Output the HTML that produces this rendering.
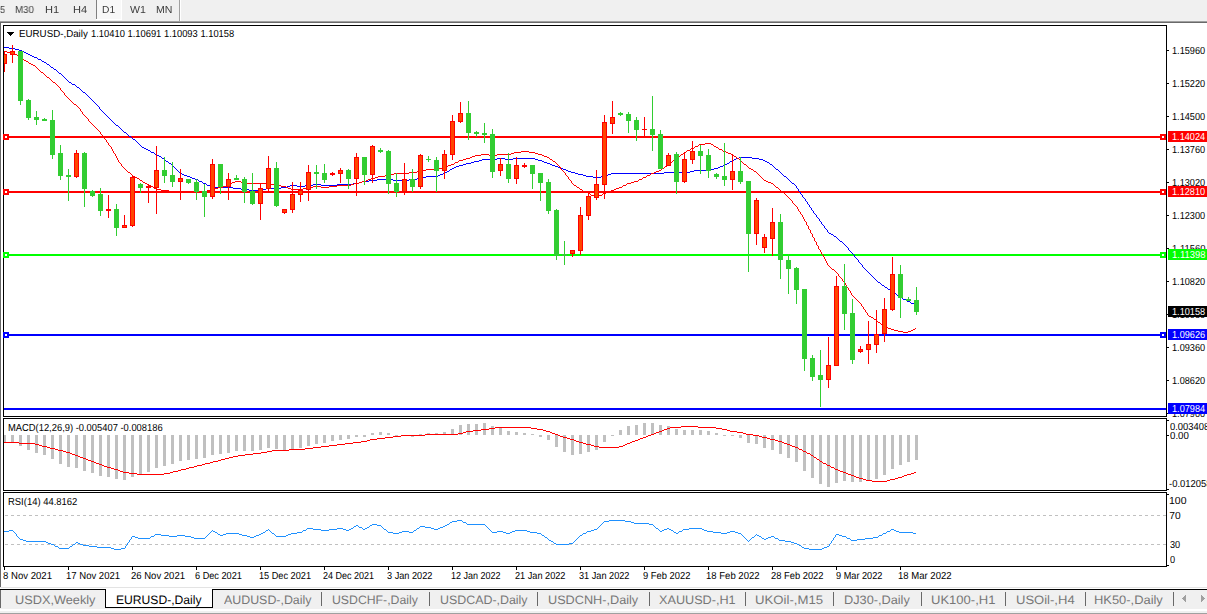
<!DOCTYPE html>
<html><head><meta charset="utf-8"><title>EURUSD-,Daily</title>
<style>
html,body{margin:0;padding:0;background:#fff}
body{width:1207px;height:614px;position:relative;overflow:hidden;font-family:"Liberation Sans",sans-serif}
svg{position:absolute;left:0;top:0;display:block}
i{position:absolute;display:block;width:39px;height:11px}
span{position:absolute;white-space:pre;line-height:1;text-rendering:geometricPrecision;transform-origin:0 0}
</style></head><body>
<svg width="1207" height="614" viewBox="0 0 1207 614" shape-rendering="crispEdges">
<path fill="#f0f0f0" d="M0 0h1207v21h-1207z"/>
<path fill="#a0a0a0" d="M0 21h1207v1h-1207z"/>
<path fill="#696969" d="M0 22h1207v1h-1207zM0 23h1v564h-1z"/>
<path fill="#f8f8f8" d="M97 0h24v19h-24z"/>
<path fill="#808080" d="M96 0h1v19h-1z"/>
<path fill="#ffffff" d="M96 19h26v1h-26zM121 0h1v20h-1z"/>
<path fill="#a0a0a0" d="M179 0h1v21h-1z"/>
<path fill="#ffffff" d="M180 0h1v21h-1z"/>
<path fill="#000" d="M3 25h1164v1h-1164zM3 416h1164v1h-1164zM3 25h1v392h-1zM1166 25h1v392h-1zM3 418h1164v1h-1164zM3 490h1164v1h-1164zM3 418h1v73h-1zM1166 418h1v73h-1zM3 492h1164v1h-1164zM3 566h1164v1h-1164zM3 492h1v75h-1zM1166 492h1v75h-1zM1167 50h2v1h-2zM1167 83h2v1h-2zM1167 116h2v1h-2zM1167 149h2v1h-2zM1167 182h2v1h-2zM1167 215h2v1h-2zM1167 248h2v1h-2zM1167 281h2v1h-2zM1167 314h2v1h-2zM1167 347h2v1h-2zM1167 380h2v1h-2zM1167 413h2v1h-2zM1167 420h2v1h-2zM1167 435h2v1h-2zM1167 489h2v1h-2zM1167 494h2v1h-2zM1167 565h2v1h-2zM4 567h1v3h-1zM68 567h1v3h-1zM132 567h1v3h-1zM196 567h1v3h-1zM260 567h1v3h-1zM324 567h1v3h-1zM388 567h1v3h-1zM452 567h1v3h-1zM516 567h1v3h-1zM580 567h1v3h-1zM644 567h1v3h-1zM708 567h1v3h-1zM772 567h1v3h-1zM836 567h1v3h-1zM900 567h1v3h-1z"/>
<path fill="#ff0000" d="M4 136h1162v2h-1162zM4 191h1162v2h-1162z"/>
<path fill="#00ff00" d="M4 254h1162v2h-1162z"/>
<path fill="#0000ff" d="M4 334h1162v2h-1162zM4 408h1162v2h-1162zM162 158h2v1h-2zM497 158h8v1h-8zM513 158h22v1h-22zM736 158h3v1h-3zM752 158h7v1h-7zM146 149h2v1h-2zM59 73h2v1h-2zM566 170h2v1h-2zM694 170h17v1h-17zM211 186h3v1h-3zM287 186h3v1h-3zM297 186h8v1h-8zM69 82h2v1h-2zM369 180h8v1h-8zM393 180h16v1h-16zM739 157h13v1h-13zM482 159h15v1h-15zM505 159h8v1h-8zM535 159h3v1h-3zM734 159h2v1h-2zM759 159h4v1h-4zM199 181h3v1h-3zM362 181h7v1h-7zM148 150h2v1h-2zM38 59h3v1h-3zM313 184h8v1h-8zM337 184h16v1h-16zM454 167h2v1h-2zM558 167h2v1h-2zM718 167h2v1h-2zM180 173h2v1h-2zM443 173h2v1h-2zM575 173h3v1h-3zM611 173h53v1h-53zM195 179h3v1h-3zM377 179h16v1h-16zM409 179h8v1h-8zM32 56h2v1h-2zM233 188h8v1h-8zM266 188h15v1h-15zM24 52h2v1h-2zM187 176h3v1h-3zM426 176h12v1h-12zM586 176h7v1h-7zM601 176h5v1h-5zM784 176h2v1h-2zM169 163h2v1h-2zM466 163h5v1h-5zM547 163h3v1h-3zM727 163h2v1h-2zM72 84h3v1h-3zM203 183h3v1h-3zM353 183h6v1h-6zM792 183h2v1h-2zM479 160h3v1h-3zM538 160h4v1h-4zM732 160h2v1h-2zM763 160h2v1h-2zM34 57h3v1h-3zM459 165h4v1h-4zM552 165h3v1h-3zM723 165h2v1h-2zM214 187h19v1h-19zM281 187h6v1h-6zM28 54h2v1h-2zM19 50h3v1h-3zM184 175h3v1h-3zM438 175h2v1h-2zM583 175h3v1h-3zM606 175h2v1h-2zM463 164h3v1h-3zM550 164h2v1h-2zM725 164h2v1h-2zM770 164h2v1h-2zM249 190h14v1h-14zM207 185h4v1h-4zM290 185h7v1h-7zM305 185h8v1h-8zM321 185h16v1h-16zM190 177h2v1h-2zM423 177h3v1h-3zM593 177h8v1h-8zM450 169h2v1h-2zM563 169h3v1h-3zM711 169h3v1h-3zM776 169h2v1h-2zM445 172h2v1h-2zM571 172h4v1h-4zM664 172h26v1h-26zM4 47h5v1h-5zM129 136h2v1h-2zM166 161h2v1h-2zM474 161h5v1h-5zM542 161h2v1h-2zM730 161h2v1h-2zM765 161h2v1h-2zM182 174h2v1h-2zM440 174h3v1h-3zM578 174h5v1h-5zM608 174h3v1h-3zM54 69h2v1h-2zM241 189h8v1h-8zM263 189h3v1h-3zM471 162h3v1h-3zM544 162h3v1h-3zM767 162h2v1h-2zM9 48h6v1h-6zM447 171h2v1h-2zM568 171h3v1h-3zM690 171h4v1h-4zM192 178h3v1h-3zM417 178h6v1h-6zM83 92h2v1h-2zM51 67h2v1h-2zM116 125h2v1h-2zM452 168h2v1h-2zM560 168h3v1h-3zM714 168h4v1h-4zM124 132h2v1h-2zM456 166h3v1h-3zM555 166h3v1h-3zM720 166h3v1h-3zM890 290h2v1h-2zM893 292h2v1h-2zM159 156h2v1h-2zM885 287h2v1h-2zM30 55h2v1h-2zM155 154h2v1h-2zM15 49h4v1h-4zM834 236h2v1h-2zM26 53h2v1h-2zM157 155h2v1h-2zM42 61h2v1h-2zM359 182h3v1h-3zM44 62h2v1h-2zM911 303h3v1h-3zM903 299h3v1h-3zM878 282h2v1h-2zM133 139h2v1h-2zM151 152h3v1h-3zM907 301h3v1h-3zM900 297h2v1h-2zM829 233h2v1h-2zM144 148h2v1h-2zM914 304h2v1h-2zM840 241h2v1h-2zM47 64h2v1h-2zM888 289h2v1h-2zM77 87h2v1h-2zM882 285h2v1h-2zM831 234h2v1h-2zM22 51h2v1h-2zM142 147h2v1h-2zM897 295h2v1h-2zM812 210h1v1h-1zM79 88h1v1h-1zM96 104h1v1h-1zM821 222h1v2h-1zM863 267h1v1h-1zM880 283h1v1h-1zM796 186h1v2h-1zM161 157h1v1h-1zM773 166h1v1h-1zM179 172h1v1h-1zM892 291h1v1h-1zM127 134h1v1h-1zM813 211h1v2h-1zM112 121h1v1h-1zM887 288h1v1h-1zM854 255h1v2h-1zM175 168h1v1h-1zM168 162h1v1h-1zM899 296h1v1h-1zM827 230h1v2h-1zM800 192h1v2h-1zM176 169h1v1h-1zM881 284h1v1h-1zM864 268h1v1h-1zM135 140h1v1h-1zM805 199h1v2h-1zM851 252h1v1h-1zM845 245h1v1h-1zM870 274h1v1h-1zM786 177h1v1h-1zM806 201h1v1h-1zM819 219h1v2h-1zM791 182h1v1h-1zM846 246h1v1h-1zM809 205h1v2h-1zM794 184h1v1h-1zM787 178h1v1h-1zM101 110h1v1h-1zM118 126h1v1h-1zM198 180h1v1h-1zM842 242h1v1h-1zM861 264h1v1h-1zM871 275h1v1h-1zM75 85h1v1h-1zM811 208h1v2h-1zM798 189h1v2h-1zM867 271h1v1h-1zM37 58h1v1h-1zM799 191h1v1h-1zM847 247h1v1h-1zM816 215h1v2h-1zM788 179h1v1h-1zM825 228h1v1h-1zM843 243h1v1h-1zM836 237h1v1h-1zM868 272h1v1h-1zM46 63h1v1h-1zM862 265h1v2h-1zM202 182h1v1h-1zM789 180h1v1h-1zM803 197h1v1h-1zM844 244h1v1h-1zM858 260h1v2h-1zM53 68h1v1h-1zM790 181h1v1h-1zM128 135h1v1h-1zM71 83h1v1h-1zM64 77h1v1h-1zM778 170h1v1h-1zM99 107h1v2h-1zM139 144h1v1h-1zM873 277h1v1h-1zM817 217h1v1h-1zM41 60h1v1h-1zM826 229h1v1h-1zM874 278h1v1h-1zM869 273h1v1h-1zM89 97h1v1h-1zM140 145h1v1h-1zM818 218h1v1h-1zM865 269h1v1h-1zM85 93h1v1h-1zM875 279h1v1h-1zM859 262h1v1h-1zM136 141h1v1h-1zM838 239h1v1h-1zM90 98h1v1h-1zM779 171h1v1h-1zM86 94h1v1h-1zM206 184h1v1h-1zM61 74h1v1h-1zM860 263h1v1h-1zM106 115h1v1h-1zM123 131h1v1h-1zM810 207h1v1h-1zM62 75h1v1h-1zM119 127h1v1h-1zM876 280h1v1h-1zM164 159h1v1h-1zM895 293h1v1h-1zM102 111h1v1h-1zM137 142h1v1h-1zM769 163h1v1h-1zM872 276h1v1h-1zM103 112h1v1h-1zM87 95h1v1h-1zM877 281h1v1h-1zM80 89h1v1h-1zM814 213h1v1h-1zM97 105h1v1h-1zM138 143h1v1h-1zM815 214h1v1h-1zM802 195h1v2h-1zM848 248h1v2h-1zM781 173h1v1h-1zM824 226h1v2h-1zM93 101h1v1h-1zM68 81h1v1h-1zM884 286h1v1h-1zM88 96h1v1h-1zM782 174h1v1h-1zM120 128h1v1h-1zM56 70h1v1h-1zM165 160h1v1h-1zM63 76h1v1h-1zM837 238h1v1h-1zM108 117h1v1h-1zM857 259h1v1h-1zM804 198h1v1h-1zM828 232h1v1h-1zM104 113h1v1h-1zM172 165h1v1h-1zM121 129h1v1h-1zM807 202h1v2h-1zM132 138h1v1h-1zM65 78h1v1h-1zM122 130h1v1h-1zM100 109h1v1h-1zM110 119h1v1h-1zM94 102h1v1h-1zM154 153h1v1h-1zM173 166h1v1h-1zM783 175h1v1h-1zM82 91h1v1h-1zM808 204h1v1h-1zM141 146h1v1h-1zM95 103h1v1h-1zM115 124h1v1h-1zM822 224h1v1h-1zM795 185h1v1h-1zM839 240h1v1h-1zM91 99h1v1h-1zM849 250h1v1h-1zM66 79h1v1h-1zM780 172h1v1h-1zM797 188h1v1h-1zM111 120h1v1h-1zM823 225h1v1h-1zM449 170h1v1h-1zM855 257h1v1h-1zM67 80h1v1h-1zM107 116h1v1h-1zM150 151h1v1h-1zM801 194h1v1h-1zM856 258h1v1h-1zM896 294h1v1h-1zM131 137h1v1h-1zM49 65h1v1h-1zM92 100h1v1h-1zM850 251h1v1h-1zM910 302h1v1h-1zM833 235h1v1h-1zM171 164h1v1h-1zM902 298h1v1h-1zM774 167h1v1h-1zM81 90h1v1h-1zM98 106h1v1h-1zM50 66h1v1h-1zM729 162h1v1h-1zM775 168h1v1h-1zM113 122h1v1h-1zM57 71h1v1h-1zM114 123h1v1h-1zM109 118h1v1h-1zM177 170h1v1h-1zM820 221h1v1h-1zM105 114h1v1h-1zM906 300h1v1h-1zM58 72h1v1h-1zM178 171h1v1h-1zM126 133h1v1h-1zM866 270h1v1h-1zM852 253h1v1h-1zM853 254h1v1h-1zM174 167h1v1h-1zM76 86h1v1h-1zM772 165h1v1h-1z"/>
<path fill="#ff0000" d="M385 175h6v1h-6zM647 175h3v1h-3zM147 184h2v1h-2zM271 184h3v1h-3zM351 184h3v1h-3zM891 329h3v1h-3zM913 329h2v1h-2zM161 190h8v1h-8zM207 190h4v1h-4zM611 190h3v1h-3zM417 171h6v1h-6zM656 171h3v1h-3zM754 171h2v1h-2zM140 180h2v1h-2zM366 180h2v1h-2zM764 180h2v1h-2zM481 154h8v1h-8zM497 154h14v1h-14zM538 154h4v1h-4zM681 154h2v1h-2zM731 154h2v1h-2zM151 186h2v1h-2zM223 186h3v1h-3zM281 186h5v1h-5zM313 186h8v1h-8zM329 186h8v1h-8zM586 192h2v1h-2zM606 192h2v1h-2zM782 192h2v1h-2zM884 326h2v1h-2zM128 172h2v1h-2zM409 172h8v1h-8zM654 172h2v1h-2zM466 158h4v1h-4zM737 158h2v1h-2zM903 332h5v1h-5zM169 191h38v1h-38zM583 191h3v1h-3zM608 191h3v1h-3zM235 181h6v1h-6zM362 181h4v1h-4zM634 181h4v1h-4zM766 181h2v1h-2zM521 151h8v1h-8zM723 151h3v1h-3zM156 189h5v1h-5zM211 189h4v1h-4zM291 189h12v1h-12zM580 189h2v1h-2zM614 189h2v1h-2zM218 187h5v1h-5zM286 187h2v1h-2zM306 187h7v1h-7zM321 187h8v1h-8zM577 187h2v1h-2zM619 187h3v1h-3zM776 187h2v1h-2zM423 170h3v1h-3zM659 170h2v1h-2zM368 179h3v1h-3zM639 179h3v1h-3zM143 182h2v1h-2zM232 182h3v1h-3zM241 182h6v1h-6zM359 182h3v1h-3zM631 182h3v1h-3zM768 182h3v1h-3zM886 327h2v1h-2zM137 178h2v1h-2zM371 178h4v1h-4zM145 183h2v1h-2zM230 183h2v1h-2zM247 183h24v1h-24zM354 183h5v1h-5zM627 183h4v1h-4zM771 183h2v1h-2zM472 156h3v1h-3zM544 156h3v1h-3zM678 156h2v1h-2zM734 156h2v1h-2zM133 176h2v1h-2zM378 176h7v1h-7zM394 173h15v1h-15zM651 173h3v1h-3zM451 164h3v1h-3zM744 164h2v1h-2zM470 157h2v1h-2zM547 157h2v1h-2zM29 63h2v1h-2zM455 162h3v1h-3zM670 162h2v1h-2zM439 168h3v1h-3zM662 168h2v1h-2zM749 168h2v1h-2zM888 328h3v1h-3zM426 169h13v1h-13zM751 169h2v1h-2zM154 188h2v1h-2zM215 188h3v1h-3zM288 188h3v1h-3zM303 188h3v1h-3zM616 188h3v1h-3zM135 177h2v1h-2zM375 177h3v1h-3zM643 177h3v1h-3zM31 64h2v1h-2zM24 60h2v1h-2zM588 193h2v1h-2zM603 193h3v1h-3zM719 149h3v1h-3zM459 160h4v1h-4zM673 160h2v1h-2zM894 330h4v1h-4zM911 330h2v1h-2zM832 269h2v1h-2zM149 185h2v1h-2zM226 185h3v1h-3zM274 185h7v1h-7zM337 185h14v1h-14zM574 185h2v1h-2zM623 185h3v1h-3zM448 165h3v1h-3zM514 152h7v1h-7zM529 152h6v1h-6zM684 152h2v1h-2zM726 152h2v1h-2zM511 153h3v1h-3zM535 153h3v1h-3zM728 153h3v1h-3zM475 155h6v1h-6zM489 155h8v1h-8zM542 155h2v1h-2zM878 322h2v1h-2zM705 143h6v1h-6zM4 51h3v1h-3zM41 72h2v1h-2zM898 331h5v1h-5zM908 331h3v1h-3zM53 82h2v1h-2zM553 161h2v1h-2zM7 52h3v1h-3zM446 166h2v1h-2zM665 166h2v1h-2zM20 57h2v1h-2zM10 53h4v1h-4zM442 167h4v1h-4zM699 144h6v1h-6zM711 144h2v1h-2zM871 317h2v1h-2zM874 319h2v1h-2zM74 104h2v1h-2zM14 54h3v1h-3zM716 147h2v1h-2zM591 195h3v1h-3zM599 195h3v1h-3zM695 146h3v1h-3zM714 146h2v1h-2zM463 159h3v1h-3zM550 159h2v1h-2zM595 197h3v1h-3zM691 148h3v1h-3zM33 65h2v1h-2zM391 174h3v1h-3zM687 150h3v1h-3zM26 61h2v1h-2zM881 324h2v1h-2zM17 55h2v1h-2zM47 77h2v1h-2zM869 316h2v1h-2zM626 184h1v1h-1zM851 293h1v2h-1zM883 325h1v1h-1zM127 171h1v1h-1zM824 257h1v2h-1zM58 86h1v1h-1zM698 145h1v1h-1zM817 245h1v1h-1zM818 246h1v3h-1zM569 179h1v1h-1zM814 238h1v3h-1zM792 201h1v2h-1zM28 62h1v1h-1zM109 145h1v1h-1zM117 158h1v2h-1zM806 222h1v3h-1zM736 157h1v1h-1zM120 163h1v1h-1zM557 164h1v1h-1zM69 99h1v1h-1zM846 285h1v2h-1zM113 151h1v2h-1zM153 187h1v1h-1zM579 188h1v1h-1zM802 215h1v2h-1zM91 123h1v1h-1zM850 291h1v2h-1zM564 172h1v1h-1zM762 178h1v1h-1zM820 250h1v2h-1zM43 73h1v1h-1zM773 184h1v1h-1zM784 193h1v1h-1zM690 149h1v1h-1zM568 177h1v2h-1zM861 304h1v2h-1zM785 194h1v1h-1zM835 271h1v1h-1zM98 130h1v1h-1zM686 151h1v1h-1zM61 90h1v1h-1zM598 196h1v1h-1zM667 165h1v1h-1zM602 194h1v1h-1zM810 230h1v3h-1zM83 114h1v1h-1zM62 91h1v1h-1zM102 135h1v2h-1zM791 200h1v1h-1zM556 163h1v1h-1zM849 290h1v1h-1zM84 115h1v1h-1zM761 177h1v1h-1zM108 143h1v2h-1zM116 156h1v2h-1zM845 283h1v2h-1zM853 296h1v1h-1zM831 268h1v1h-1zM812 234h1v3h-1zM813 237h1v1h-1zM76 105h1v1h-1zM746 165h1v1h-1zM82 112h1v2h-1zM779 189h1v1h-1zM838 274h1v2h-1zM747 166h1v1h-1zM101 134h1v1h-1zM142 181h1v1h-1zM39 70h1v1h-1zM112 149h1v2h-1zM780 190h1v1h-1zM852 295h1v1h-1zM115 154h1v2h-1zM123 167h1v1h-1zM713 145h1v1h-1zM823 255h1v2h-1zM567 176h1v1h-1zM549 158h1v1h-1zM859 302h1v1h-1zM816 242h1v3h-1zM60 88h1v2h-1zM646 176h1v1h-1zM571 181h1v2h-1zM860 303h1v1h-1zM64 93h1v2h-1zM458 161h1v1h-1zM38 69h1v1h-1zM49 78h1v1h-1zM757 173h1v1h-1zM848 288h1v2h-1zM111 147h1v2h-1zM560 167h1v2h-1zM741 161h1v1h-1zM93 125h1v1h-1zM742 162h1v1h-1zM775 186h1v1h-1zM863 307h1v2h-1zM786 195h1v1h-1zM642 178h1v1h-1zM100 132h1v2h-1zM570 180h1v1h-1zM787 196h1v1h-1zM808 226h1v3h-1zM867 313h1v2h-1zM837 273h1v1h-1zM793 203h1v1h-1zM85 116h1v1h-1zM794 204h1v1h-1zM558 165h1v1h-1zM669 163h1v1h-1zM86 117h1v1h-1zM70 100h1v1h-1zM622 186h1v1h-1zM559 166h1v1h-1zM92 124h1v1h-1zM71 101h1v1h-1zM44 74h1v1h-1zM45 75h1v1h-1zM56 84h1v1h-1zM862 306h1v1h-1zM811 233h1v1h-1zM638 180h1v1h-1zM99 131h1v1h-1zM756 172h1v1h-1zM866 312h1v1h-1zM121 164h1v2h-1zM63 92h1v1h-1zM763 179h1v1h-1zM854 297h1v1h-1zM55 83h1v1h-1zM855 298h1v1h-1zM103 137h1v1h-1zM880 323h1v1h-1zM573 184h1v1h-1zM576 186h1v1h-1zM804 219h1v2h-1zM748 167h1v1h-1zM807 225h1v1h-1zM40 71h1v1h-1zM797 207h1v2h-1zM781 191h1v1h-1zM840 277h1v1h-1zM561 169h1v1h-1zM800 212h1v2h-1zM722 150h1v1h-1zM562 170h1v1h-1zM125 169h1v1h-1zM22 58h1v1h-1zM733 155h1v1h-1zM865 310h1v2h-1zM876 320h1v1h-1zM139 179h1v1h-1zM77 106h1v1h-1zM675 159h1v1h-1zM718 148h1v1h-1zM839 276h1v1h-1zM51 80h1v1h-1zM124 168h1v1h-1zM66 96h1v1h-1zM106 140h1v2h-1zM795 205h1v1h-1zM803 217h1v2h-1zM88 119h1v2h-1zM796 206h1v1h-1zM825 259h1v2h-1zM828 265h1v1h-1zM94 126h1v1h-1zM73 103h1v1h-1zM821 252h1v2h-1zM743 163h1v1h-1zM572 183h1v1h-1zM95 127h1v1h-1zM864 309h1v1h-1zM65 95h1v1h-1zM454 163h1v1h-1zM788 197h1v1h-1zM50 79h1v1h-1zM683 153h1v1h-1zM809 229h1v1h-1zM80 109h1v2h-1zM758 174h1v1h-1zM664 167h1v1h-1zM759 175h1v1h-1zM799 211h1v1h-1zM229 184h1v1h-1zM72 102h1v1h-1zM594 196h1v1h-1zM87 118h1v1h-1zM857 300h1v1h-1zM590 194h1v1h-1zM582 190h1v1h-1zM868 315h1v1h-1zM131 174h1v1h-1zM35 66h1v1h-1zM842 279h1v2h-1zM798 209h1v2h-1zM827 263h1v2h-1zM753 170h1v1h-1zM46 76h1v1h-1zM57 85h1v1h-1zM130 173h1v1h-1zM694 147h1v1h-1zM104 138h1v1h-1zM841 278h1v1h-1zM105 139h1v1h-1zM805 221h1v1h-1zM826 261h1v2h-1zM89 121h1v1h-1zM126 170h1v1h-1zM68 98h1v1h-1zM677 157h1v1h-1zM856 299h1v1h-1zM90 122h1v1h-1zM739 159h1v1h-1zM563 171h1v1h-1zM23 59h1v1h-1zM78 107h1v1h-1zM834 270h1v1h-1zM97 129h1v1h-1zM118 160h1v2h-1zM79 108h1v1h-1zM119 162h1v1h-1zM52 81h1v1h-1zM801 214h1v1h-1zM819 249h1v1h-1zM877 321h1v1h-1zM552 160h1v1h-1zM790 199h1v1h-1zM555 162h1v1h-1zM67 97h1v1h-1zM107 142h1v1h-1zM19 56h1v1h-1zM760 176h1v1h-1zM829 266h1v1h-1zM873 318h1v1h-1zM565 173h1v2h-1zM822 254h1v1h-1zM830 267h1v1h-1zM96 128h1v1h-1zM566 175h1v1h-1zM650 174h1v1h-1zM815 241h1v1h-1zM789 198h1v1h-1zM132 175h1v1h-1zM81 111h1v1h-1zM778 188h1v1h-1zM668 164h1v1h-1zM843 281h1v1h-1zM37 68h1v1h-1zM114 153h1v1h-1zM672 161h1v1h-1zM122 166h1v1h-1zM844 282h1v1h-1zM847 287h1v1h-1zM661 169h1v1h-1zM858 301h1v1h-1zM774 185h1v1h-1zM36 67h1v1h-1zM915 328h1v1h-1zM59 87h1v1h-1zM836 272h1v1h-1zM676 158h1v1h-1zM110 146h1v1h-1zM740 160h1v1h-1zM680 155h1v1h-1zM4 51h1v21h-1zM4 54h3v10h-3z"/>
<path fill="#ff4500" d="M4 55h2v8h-2z"/>
<path fill="#ff0000" d="M12 45h1v18h-1zM10 51h5v4h-5z"/>
<path fill="#ff4500" d="M11 52h3v2h-3z"/>
<path fill="#32cd32" d="M20 51h1v54h-1zM18 51h5v50h-5zM28 99h1v21h-1zM26 100h5v18h-5zM36 111h1v14h-1zM34 117h5v3h-5zM44 118h1v3h-1zM42 119h5v2h-5zM52 110h1v49h-1zM50 120h5v35h-5zM60 145h1v35h-1zM58 153h5v23h-5zM68 169h1v32h-1zM66 175h5v2h-5z"/>
<path fill="#ff0000" d="M76 150h1v28h-1zM74 153h5v24h-5z"/>
<path fill="#ff4500" d="M75 154h3v22h-3z"/>
<path fill="#32cd32" d="M84 152h1v55h-1zM82 153h5v36h-5zM92 190h1v7h-1zM90 191h5v5h-5zM100 188h1v28h-1zM98 194h5v17h-5z"/>
<path fill="#ff0000" d="M108 195h1v23h-1zM106 209h5v2h-5z"/>
<path fill="#32cd32" d="M116 204h1v32h-1zM114 209h5v19h-5z"/>
<path fill="#ff0000" d="M124 215h1v13h-1zM122 225h5v3h-5z"/>
<path fill="#ff4500" d="M123 226h3v1h-3z"/>
<path fill="#ff0000" d="M132 175h1v52h-1zM130 177h5v49h-5z"/>
<path fill="#ff4500" d="M131 178h3v47h-3z"/>
<path fill="#32cd32" d="M140 183h1v10h-1zM138 184h5v4h-5z"/>
<path fill="#ff0000" d="M148 185h1v18h-1zM146 186h5v2h-5zM156 146h1v68h-1zM154 170h5v18h-5z"/>
<path fill="#ff4500" d="M155 171h3v16h-3z"/>
<path fill="#32cd32" d="M164 157h1v26h-1zM162 170h5v6h-5zM172 162h1v25h-1zM170 175h5v7h-5z"/>
<path fill="#ff0000" d="M180 169h1v31h-1zM178 178h5v4h-5z"/>
<path fill="#ff4500" d="M179 179h3v2h-3z"/>
<path fill="#32cd32" d="M188 179h1v5h-1zM186 179h5v4h-5zM196 179h1v21h-1zM194 182h5v10h-5zM204 184h1v33h-1zM202 191h5v6h-5z"/>
<path fill="#ff0000" d="M212 159h1v40h-1zM210 164h5v33h-5z"/>
<path fill="#ff4500" d="M211 165h3v31h-3z"/>
<path fill="#32cd32" d="M220 164h1v30h-1zM218 164h5v23h-5z"/>
<path fill="#ff0000" d="M228 173h1v27h-1zM226 179h5v8h-5z"/>
<path fill="#ff4500" d="M227 180h3v6h-3z"/>
<path fill="#32cd32" d="M236 175h1v5h-1zM234 178h5v2h-5zM244 177h1v26h-1zM242 179h5v13h-5zM252 173h1v32h-1zM250 191h5v13h-5z"/>
<path fill="#ff0000" d="M260 184h1v36h-1zM258 188h5v16h-5z"/>
<path fill="#ff4500" d="M259 189h3v14h-3z"/>
<path fill="#ff0000" d="M268 156h1v36h-1zM266 168h5v21h-5z"/>
<path fill="#ff4500" d="M267 169h3v19h-3z"/>
<path fill="#32cd32" d="M276 162h1v45h-1zM274 168h5v38h-5z"/>
<path fill="#ff0000" d="M284 209h1v5h-1zM282 209h5v4h-5z"/>
<path fill="#ff4500" d="M283 210h3v2h-3z"/>
<path fill="#ff0000" d="M292 182h1v31h-1zM290 194h5v16h-5z"/>
<path fill="#ff4500" d="M291 195h3v14h-3z"/>
<path fill="#ff0000" d="M300 182h1v20h-1zM298 190h5v5h-5z"/>
<path fill="#ff4500" d="M299 191h3v3h-3z"/>
<path fill="#ff0000" d="M308 165h1v36h-1zM306 172h5v18h-5z"/>
<path fill="#ff4500" d="M307 173h3v16h-3z"/>
<path fill="#32cd32" d="M316 165h1v24h-1zM314 172h5v2h-5zM324 164h1v19h-1zM322 173h5v7h-5z"/>
<path fill="#ff0000" d="M332 172h1v4h-1zM330 173h5v2h-5zM340 168h1v15h-1zM338 170h5v4h-5z"/>
<path fill="#ff4500" d="M339 171h3v2h-3z"/>
<path fill="#32cd32" d="M348 169h1v20h-1zM346 170h5v9h-5z"/>
<path fill="#ff0000" d="M356 153h1v43h-1zM354 157h5v22h-5z"/>
<path fill="#ff4500" d="M355 158h3v20h-3z"/>
<path fill="#32cd32" d="M364 157h1v28h-1zM362 157h5v18h-5z"/>
<path fill="#ff0000" d="M372 145h1v38h-1zM370 146h5v29h-5z"/>
<path fill="#ff4500" d="M371 147h3v27h-3z"/>
<path fill="#32cd32" d="M380 148h1v5h-1zM378 150h5v2h-5zM388 150h1v44h-1zM386 151h5v33h-5zM396 173h1v24h-1zM394 183h5v9h-5z"/>
<path fill="#ff0000" d="M404 163h1v32h-1zM402 179h5v13h-5z"/>
<path fill="#ff4500" d="M403 180h3v11h-3z"/>
<path fill="#32cd32" d="M412 169h1v23h-1zM410 179h5v8h-5z"/>
<path fill="#ff0000" d="M420 154h1v35h-1zM418 155h5v32h-5z"/>
<path fill="#ff4500" d="M419 156h3v30h-3z"/>
<path fill="#32cd32" d="M428 156h1v6h-1zM426 159h5v1h-5zM436 157h1v35h-1zM434 160h5v11h-5z"/>
<path fill="#ff0000" d="M444 150h1v29h-1zM442 154h5v17h-5z"/>
<path fill="#ff4500" d="M443 155h3v15h-3z"/>
<path fill="#ff0000" d="M452 115h1v45h-1zM450 121h5v34h-5z"/>
<path fill="#ff4500" d="M451 122h3v32h-3z"/>
<path fill="#ff0000" d="M460 102h1v21h-1zM458 113h5v9h-5z"/>
<path fill="#ff4500" d="M459 114h3v7h-3z"/>
<path fill="#32cd32" d="M468 101h1v39h-1zM466 113h5v20h-5zM476 131h1v6h-1zM474 132h5v2h-5zM484 123h1v20h-1zM482 133h5v2h-5zM492 129h1v49h-1zM490 134h5v38h-5z"/>
<path fill="#ff0000" d="M500 158h1v18h-1zM498 164h5v7h-5z"/>
<path fill="#ff4500" d="M499 165h3v5h-3z"/>
<path fill="#32cd32" d="M508 153h1v30h-1zM506 164h5v15h-5z"/>
<path fill="#ff0000" d="M516 157h1v27h-1zM514 165h5v14h-5z"/>
<path fill="#ff4500" d="M515 166h3v12h-3z"/>
<path fill="#ff0000" d="M524 163h1v5h-1zM522 165h5v2h-5z"/>
<path fill="#32cd32" d="M532 165h1v24h-1zM530 165h5v9h-5zM540 173h1v28h-1zM538 173h5v10h-5zM548 179h1v35h-1zM546 182h5v29h-5zM556 209h1v51h-1zM554 210h5v46h-5zM564 241h1v24h-1zM562 254h5v2h-5z"/>
<path fill="#ff0000" d="M572 250h1v7h-1zM570 250h5v4h-5z"/>
<path fill="#ff4500" d="M571 251h3v2h-3z"/>
<path fill="#ff0000" d="M580 207h1v48h-1zM578 215h5v36h-5z"/>
<path fill="#ff4500" d="M579 216h3v34h-3z"/>
<path fill="#ff0000" d="M588 192h1v28h-1zM586 196h5v20h-5z"/>
<path fill="#ff4500" d="M587 197h3v18h-3z"/>
<path fill="#ff0000" d="M596 170h1v30h-1zM594 184h5v14h-5z"/>
<path fill="#ff4500" d="M595 185h3v12h-3z"/>
<path fill="#ff0000" d="M604 115h1v84h-1zM602 122h5v63h-5z"/>
<path fill="#ff4500" d="M603 123h3v61h-3z"/>
<path fill="#ff0000" d="M612 101h1v33h-1zM610 117h5v7h-5z"/>
<path fill="#ff4500" d="M611 118h3v5h-3z"/>
<path fill="#32cd32" d="M620 112h1v4h-1zM618 113h5v2h-5zM628 112h1v21h-1zM626 114h5v7h-5zM636 117h1v24h-1zM634 120h5v10h-5z"/>
<path fill="#ff0000" d="M644 117h1v20h-1zM642 129h5v1h-5z"/>
<path fill="#32cd32" d="M652 96h1v55h-1zM650 129h5v6h-5zM660 130h1v39h-1zM658 134h5v35h-5z"/>
<path fill="#ff0000" d="M668 153h1v13h-1zM666 155h5v11h-5z"/>
<path fill="#ff4500" d="M667 156h3v9h-3z"/>
<path fill="#32cd32" d="M676 152h1v42h-1zM674 154h5v28h-5z"/>
<path fill="#ff0000" d="M684 153h1v30h-1zM682 159h5v23h-5z"/>
<path fill="#ff4500" d="M683 160h3v21h-3z"/>
<path fill="#ff0000" d="M692 141h1v23h-1zM690 151h5v9h-5z"/>
<path fill="#ff4500" d="M691 152h3v7h-3z"/>
<path fill="#32cd32" d="M700 145h1v29h-1zM698 151h5v5h-5zM708 149h1v29h-1zM706 155h5v16h-5zM716 173h1v6h-1zM714 174h5v3h-5zM724 143h1v43h-1zM722 176h5v4h-5z"/>
<path fill="#ff0000" d="M732 154h1v36h-1zM730 171h5v9h-5z"/>
<path fill="#ff4500" d="M731 172h3v7h-3z"/>
<path fill="#32cd32" d="M740 157h1v27h-1zM738 171h5v11h-5zM748 181h1v91h-1zM746 181h5v53h-5z"/>
<path fill="#ff0000" d="M756 198h1v47h-1zM754 200h5v34h-5z"/>
<path fill="#ff4500" d="M755 201h3v32h-3z"/>
<path fill="#ff0000" d="M764 234h1v19h-1zM762 237h5v11h-5z"/>
<path fill="#ff4500" d="M763 238h3v9h-3z"/>
<path fill="#ff0000" d="M772 208h1v48h-1zM770 222h5v17h-5z"/>
<path fill="#ff4500" d="M771 223h3v15h-3z"/>
<path fill="#32cd32" d="M780 214h1v65h-1zM778 222h5v38h-5zM788 254h1v40h-1zM786 260h5v9h-5zM796 267h1v37h-1zM794 268h5v22h-5zM804 289h1v82h-1zM802 289h5v70h-5zM812 355h1v26h-1zM810 358h5v19h-5zM820 350h1v57h-1zM818 375h5v5h-5z"/>
<path fill="#ff0000" d="M828 337h1v51h-1zM826 365h5v15h-5z"/>
<path fill="#ff4500" d="M827 366h3v13h-3z"/>
<path fill="#ff0000" d="M836 276h1v90h-1zM834 286h5v80h-5z"/>
<path fill="#ff4500" d="M835 287h3v78h-3z"/>
<path fill="#32cd32" d="M844 264h1v66h-1zM842 286h5v28h-5zM852 299h1v65h-1zM850 313h5v47h-5z"/>
<path fill="#ff0000" d="M860 346h1v7h-1zM858 349h5v3h-5z"/>
<path fill="#ff4500" d="M859 350h3v1h-3z"/>
<path fill="#ff0000" d="M868 321h1v43h-1zM866 344h5v6h-5z"/>
<path fill="#ff4500" d="M867 345h3v4h-3z"/>
<path fill="#ff0000" d="M876 310h1v43h-1zM874 334h5v11h-5z"/>
<path fill="#ff4500" d="M875 335h3v9h-3z"/>
<path fill="#ff0000" d="M884 298h1v44h-1zM882 309h5v25h-5z"/>
<path fill="#ff4500" d="M883 310h3v23h-3z"/>
<path fill="#ff0000" d="M892 257h1v54h-1zM890 274h5v36h-5z"/>
<path fill="#ff4500" d="M891 275h3v34h-3z"/>
<path fill="#32cd32" d="M900 265h1v53h-1zM898 274h5v24h-5zM908 297h1v4h-1zM906 299h5v2h-5zM916 287h1v28h-1zM914 300h5v12h-5z"/>
<path fill="#ff0000" d="M3 134h6v6h-6z"/>
<path fill="#fff" d="M5 136h2v2h-2z"/>
<path fill="#ff0000" d="M1160 134h6v6h-6z"/>
<path fill="#fff" d="M1162 136h2v2h-2z"/>
<path fill="#ff0000" d="M3 189h6v6h-6z"/>
<path fill="#fff" d="M5 191h2v2h-2z"/>
<path fill="#ff0000" d="M1160 189h6v6h-6z"/>
<path fill="#fff" d="M1162 191h2v2h-2z"/>
<path fill="#00ff00" d="M3 252h6v6h-6z"/>
<path fill="#fff" d="M5 254h2v2h-2z"/>
<path fill="#00ff00" d="M1160 252h6v6h-6z"/>
<path fill="#fff" d="M1162 254h2v2h-2z"/>
<path fill="#0000ff" d="M3 332h6v6h-6z"/>
<path fill="#fff" d="M5 334h2v2h-2z"/>
<path fill="#0000ff" d="M1160 332h6v6h-6z"/>
<path fill="#fff" d="M1162 334h2v2h-2z"/>
<path fill="#c0c0c0" d="M4 435h2v7h-2zM11 435h3v7h-3zM19 435h3v11h-3zM27 435h3v15h-3zM35 435h3v18h-3zM43 435h3v20h-3zM51 435h3v24h-3zM59 435h3v29h-3zM67 435h3v32h-3zM75 435h3v33h-3zM83 435h3v36h-3zM91 435h3v38h-3zM99 435h3v41h-3zM107 435h3v42h-3zM115 435h3v44h-3zM123 435h3v45h-3zM131 435h3v42h-3zM139 435h3v39h-3zM147 435h3v37h-3zM155 435h3v33h-3zM163 435h3v31h-3zM171 435h3v29h-3zM179 435h3v26h-3zM187 435h3v25h-3zM195 435h3v24h-3zM203 435h3v23h-3zM211 435h3v20h-3zM219 435h3v19h-3zM227 435h3v18h-3zM235 435h3v16h-3zM243 435h3v16h-3zM251 435h3v16h-3zM259 435h3v15h-3zM267 435h3v13h-3zM275 435h3v14h-3zM283 435h3v15h-3zM291 435h3v14h-3zM299 435h3v13h-3zM307 435h3v11h-3zM315 435h3v9h-3zM323 435h3v8h-3zM331 435h3v6h-3zM339 435h3v5h-3zM347 435h3v4h-3zM355 435h3v2h-3zM363 435h3v2h-3zM371 433h3v2h-3zM379 432h3v3h-3zM387 433h3v2h-3zM395 435h3v1h-3zM403 435h3v1h-3zM411 435h3v2h-3zM419 434h3v1h-3zM427 433h3v2h-3zM435 433h3v2h-3zM443 432h3v3h-3zM451 429h3v6h-3zM459 425h3v10h-3zM467 424h3v11h-3zM475 424h3v11h-3zM483 423h3v12h-3zM491 426h3v9h-3zM499 428h3v7h-3zM507 431h3v4h-3zM515 432h3v3h-3zM523 433h3v2h-3zM531 434h3v1h-3zM539 435h3v2h-3zM547 435h3v5h-3zM555 435h3v12h-3zM563 435h3v17h-3zM571 435h3v20h-3zM579 435h3v19h-3zM587 435h3v17h-3zM595 435h3v15h-3zM603 435h3v7h-3zM611 435h3v1h-3zM619 430h3v5h-3zM627 426h3v9h-3zM635 425h3v10h-3zM643 423h3v12h-3zM651 423h3v12h-3zM659 425h3v10h-3zM667 426h3v9h-3zM675 429h3v6h-3zM683 430h3v5h-3zM691 430h3v5h-3zM699 430h3v5h-3zM707 431h3v4h-3zM715 433h3v2h-3zM723 435h3v1h-3zM731 435h3v1h-3zM739 435h3v3h-3zM747 435h3v8h-3zM755 435h3v9h-3zM763 435h3v13h-3zM771 435h3v15h-3zM779 435h3v19h-3zM787 435h3v23h-3zM795 435h3v27h-3zM803 435h3v36h-3zM811 435h3v43h-3zM819 435h3v49h-3zM827 435h3v52h-3zM835 435h3v48h-3zM843 435h3v46h-3zM851 435h3v47h-3zM859 435h3v47h-3zM867 435h3v45h-3zM875 435h3v44h-3zM883 435h3v40h-3zM891 435h3v34h-3zM899 435h3v30h-3zM907 435h3v27h-3zM915 435h3v25h-3z"/>
<path fill="#ff0000" d="M489 428h6v1h-6zM531 428h6v1h-6zM667 428h3v1h-3zM716 428h6v1h-6zM58 450h5v1h-5zM272 450h17v1h-17zM367 440h3v1h-3zM574 440h2v1h-2zM635 440h3v1h-3zM775 440h3v1h-3zM458 433h5v1h-5zM552 433h3v1h-3zM654 433h2v1h-2zM743 433h3v1h-3zM70 453h2v1h-2zM253 453h8v1h-8zM807 453h3v1h-3zM495 427h36v1h-36zM670 427h11v1h-11zM698 427h18v1h-18zM866 480h6v1h-6zM887 480h3v1h-3zM19 443h16v1h-16zM345 443h8v1h-8zM583 443h3v1h-3zM627 443h3v1h-3zM784 443h3v1h-3zM91 461h3v1h-3zM213 461h5v1h-5zM820 461h2v1h-2zM385 437h8v1h-8zM563 437h4v1h-4zM643 437h3v1h-3zM762 437h5v1h-5zM425 434h33v1h-33zM555 434h3v1h-3zM651 434h3v1h-3zM746 434h7v1h-7zM466 431h7v1h-7zM546 431h4v1h-4zM659 431h3v1h-3zM730 431h7v1h-7zM123 472h6v1h-6zM170 472h3v1h-3zM843 472h3v1h-3zM914 472h2v1h-2zM129 473h8v1h-8zM164 473h6v1h-6zM846 473h2v1h-2zM911 473h3v1h-3zM94 462h2v1h-2zM210 462h3v1h-3zM42 446h5v1h-5zM321 446h8v1h-8zM594 446h5v1h-5zM619 446h4v1h-4zM792 446h3v1h-3zM39 445h3v1h-3zM329 445h8v1h-8zM591 445h3v1h-3zM623 445h2v1h-2zM790 445h2v1h-2zM681 426h17v1h-17zM4 442h15v1h-15zM353 442h8v1h-8zM579 442h4v1h-4zM630 442h2v1h-2zM782 442h2v1h-2zM107 467h4v1h-4zM189 467h5v1h-5zM831 467h3v1h-3zM401 435h24v1h-24zM558 435h2v1h-2zM648 435h3v1h-3zM753 435h6v1h-6zM377 438h8v1h-8zM567 438h3v1h-3zM640 438h3v1h-3zM767 438h3v1h-3zM863 479h3v1h-3zM890 479h5v1h-5zM393 436h8v1h-8zM560 436h3v1h-3zM646 436h2v1h-2zM759 436h3v1h-3zM78 456h2v1h-2zM233 456h5v1h-5zM55 449h3v1h-3zM289 449h16v1h-16zM799 449h3v1h-3zM35 444h4v1h-4zM337 444h8v1h-8zM586 444h5v1h-5zM625 444h2v1h-2zM787 444h3v1h-3zM104 466h3v1h-3zM194 466h3v1h-3zM88 460h3v1h-3zM218 460h3v1h-3zM120 471h3v1h-3zM173 471h5v1h-5zM840 471h3v1h-3zM473 430h8v1h-8zM543 430h3v1h-3zM662 430h2v1h-2zM727 430h3v1h-3zM102 465h2v1h-2zM197 465h5v1h-5zM827 465h3v1h-3zM118 470h2v1h-2zM178 470h3v1h-3zM838 470h2v1h-2zM361 441h6v1h-6zM576 441h3v1h-3zM632 441h3v1h-3zM778 441h4v1h-4zM137 474h27v1h-27zM848 474h3v1h-3zM907 474h4v1h-4zM872 481h15v1h-15zM99 464h3v1h-3zM202 464h3v1h-3zM47 447h3v1h-3zM313 447h8v1h-8zM599 447h20v1h-20zM795 447h3v1h-3zM96 463h3v1h-3zM205 463h5v1h-5zM823 463h3v1h-3zM851 475h3v1h-3zM904 475h3v1h-3zM111 468h3v1h-3zM186 468h3v1h-3zM370 439h7v1h-7zM570 439h4v1h-4zM638 439h2v1h-2zM770 439h5v1h-5zM80 457h3v1h-3zM229 457h4v1h-4zM814 457h2v1h-2zM481 429h8v1h-8zM537 429h6v1h-6zM664 429h3v1h-3zM722 429h5v1h-5zM114 469h4v1h-4zM181 469h5v1h-5zM835 469h3v1h-3zM66 452h4v1h-4zM261 452h6v1h-6zM63 451h3v1h-3zM267 451h5v1h-5zM803 451h3v1h-3zM463 432h3v1h-3zM550 432h2v1h-2zM656 432h3v1h-3zM737 432h6v1h-6zM83 458h3v1h-3zM225 458h4v1h-4zM50 448h5v1h-5zM305 448h8v1h-8zM72 454h3v1h-3zM245 454h8v1h-8zM859 478h4v1h-4zM895 478h3v1h-3zM75 455h3v1h-3zM238 455h7v1h-7zM811 455h2v1h-2zM854 476h2v1h-2zM902 476h2v1h-2zM856 477h3v1h-3zM898 477h4v1h-4zM86 459h2v1h-2zM221 459h4v1h-4zM817 459h2v1h-2zM802 450h1v1h-1zM816 458h1v1h-1zM830 466h1v1h-1zM822 462h1v1h-1zM806 452h1v1h-1zM813 456h1v1h-1zM798 448h1v1h-1zM826 464h1v1h-1zM834 468h1v1h-1zM819 460h1v1h-1zM810 454h1v1h-1z"/>
<line x1="5" y1="515.5" x2="1166" y2="515.5" stroke="#c0c0c0" stroke-width="1" stroke-dasharray="3,3"/>
<line x1="5" y1="544.5" x2="1166" y2="544.5" stroke="#c0c0c0" stroke-width="1" stroke-dasharray="3,3"/>
<path fill="#1e90ff" d="M313 529h8v1h-8zM329 529h8v1h-8zM343 529h3v1h-3zM349 529h2v1h-2zM363 529h2v1h-2zM384 529h2v1h-2zM434 529h4v1h-4zM594 529h3v1h-3zM664 529h3v1h-3zM669 529h2v1h-2zM683 529h6v1h-6zM702 529h2v1h-2zM891 529h3v1h-3zM215 532h2v1h-2zM263 532h2v1h-2zM297 532h5v1h-5zM388 532h5v1h-5zM399 532h3v1h-3zM409 532h4v1h-4zM492 532h5v1h-5zM503 532h3v1h-3zM510 532h2v1h-2zM530 532h7v1h-7zM674 532h2v1h-2zM713 532h8v1h-8zM727 532h3v1h-3zM735 532h3v1h-3zM899 532h14v1h-14zM9 530h4v1h-4zM266 530h2v1h-2zM303 530h3v1h-3zM321 530h8v1h-8zM346 530h3v1h-3zM414 530h2v1h-2zM515 530h12v1h-12zM591 530h3v1h-3zM662 530h2v1h-2zM671 530h2v1h-2zM704 530h3v1h-3zM894 530h2v1h-2zM226 533h13v1h-13zM261 533h2v1h-2zM272 533h2v1h-2zM291 533h6v1h-6zM393 533h6v1h-6zM506 533h4v1h-4zM537 533h4v1h-4zM583 533h3v1h-3zM676 533h2v1h-2zM721 533h6v1h-6zM738 533h3v1h-3zM883 533h3v1h-3zM913 533h3v1h-3zM372 524h5v1h-5zM447 524h2v1h-2zM467 524h18v1h-18zM649 524h4v1h-4zM452 521h5v1h-5zM604 521h5v1h-5zM625 521h6v1h-6zM23 540h3v1h-3zM549 540h2v1h-2zM779 540h6v1h-6zM851 540h6v1h-6zM132 536h3v1h-3zM151 536h3v1h-3zM169 536h8v1h-8zM185 536h6v1h-6zM247 536h3v1h-3zM254 536h2v1h-2zM276 536h10v1h-10zM759 536h2v1h-2zM771 536h3v1h-3zM842 536h4v1h-4zM48 543h3v1h-3zM78 543h2v1h-2zM554 543h2v1h-2zM569 543h4v1h-4zM794 543h3v1h-3zM59 548h10v1h-10zM111 548h3v1h-3zM121 548h4v1h-4zM804 548h5v1h-5zM822 548h2v1h-2zM4 531h5v1h-5zM213 531h2v1h-2zM402 531h7v1h-7zM497 531h6v1h-6zM512 531h3v1h-3zM527 531h3v1h-3zM587 531h4v1h-4zM660 531h2v1h-2zM679 531h3v1h-3zM707 531h6v1h-6zM730 531h5v1h-5zM887 531h3v1h-3zM896 531h3v1h-3zM138 538h12v1h-12zM194 538h11v1h-11zM762 538h2v1h-2zM766 538h2v1h-2zM775 538h3v1h-3zM847 538h3v1h-3zM865 538h8v1h-8zM307 528h6v1h-6zM337 528h6v1h-6zM351 528h2v1h-2zM365 528h2v1h-2zM417 528h2v1h-2zM431 528h3v1h-3zM438 528h2v1h-2zM656 528h2v1h-2zM667 528h2v1h-2zM689 528h13v1h-13zM457 520h5v1h-5zM609 520h16v1h-16zM114 549h7v1h-7zM809 549h13v1h-13zM55 546h3v1h-3zM70 546h2v1h-2zM89 546h8v1h-8zM827 546h2v1h-2zM161 535h8v1h-8zM177 535h8v1h-8zM220 535h3v1h-3zM242 535h5v1h-5zM256 535h3v1h-3zM286 535h2v1h-2zM542 535h2v1h-2zM580 535h2v1h-2zM757 535h2v1h-2zM839 535h3v1h-3zM879 535h3v1h-3zM356 525h2v1h-2zM370 525h2v1h-2zM377 525h4v1h-4zM445 525h2v1h-2zM26 541h20v1h-20zM551 541h2v1h-2zM785 541h6v1h-6zM634 523h15v1h-15zM450 522h2v1h-2zM463 522h3v1h-3zM631 522h3v1h-3zM135 537h3v1h-3zM191 537h3v1h-3zM250 537h4v1h-4zM545 537h2v1h-2zM752 537h2v1h-2zM768 537h3v1h-3zM873 537h5v1h-5zM359 527h3v1h-3zM367 527h2v1h-2zM425 527h6v1h-6zM440 527h3v1h-3zM51 544h3v1h-3zM73 544h2v1h-2zM80 544h3v1h-3zM556 544h13v1h-13zM797 544h2v1h-2zM97 547h14v1h-14zM802 547h2v1h-2zM824 547h3v1h-3zM155 534h6v1h-6zM218 534h2v1h-2zM223 534h3v1h-3zM239 534h3v1h-3zM259 534h2v1h-2zM288 534h3v1h-3zM836 534h3v1h-3zM20 539h3v1h-3zM764 539h2v1h-2zM857 539h8v1h-8zM354 526h2v1h-2zM420 526h5v1h-5zM443 526h2v1h-2zM83 545h6v1h-6zM799 545h2v1h-2zM46 542h2v1h-2zM76 542h2v1h-2zM791 542h3v1h-3zM413 531h1v1h-1zM125 546h1v2h-1zM127 543h1v2h-1zM774 537h1v1h-1zM746 539h1v1h-1zM15 533h1v1h-1zM381 526h1v1h-1zM678 532h1v1h-1zM271 532h1v1h-1zM742 535h1v1h-1zM756 534h1v1h-1zM747 540h1v1h-1zM582 534h1v1h-1zM416 529h1v1h-1zM382 527h1v1h-1zM754 536h1v1h-1zM755 535h1v1h-1zM778 539h1v1h-1zM575 540h1v1h-1zM16 534h1v2h-1zM659 530h1v1h-1zM748 541h1v1h-1zM54 545h1v1h-1zM212 530h1v1h-1zM573 542h1v1h-1zM603 522h1v1h-1zM383 528h1v1h-1zM129 540h1v2h-1zM131 537h1v2h-1zM834 537h1v1h-1zM13 531h1v1h-1zM544 536h1v1h-1zM831 541h1v2h-1zM833 538h1v2h-1zM128 542h1v1h-1zM653 525h1v1h-1zM58 547h1v1h-1zM69 547h1v1h-1zM209 533h1v1h-1zM878 536h1v1h-1zM362 528h1v1h-1zM207 535h1v1h-1zM208 534h1v1h-1zM274 534h1v1h-1zM265 531h1v1h-1zM449 523h1v1h-1zM576 539h1v1h-1zM206 536h1v1h-1zM829 544h1v2h-1zM275 535h1v1h-1zM486 526h1v1h-1zM18 537h1v1h-1zM574 541h1v1h-1zM353 527h1v1h-1zM419 527h1v1h-1zM466 523h1v1h-1zM835 535h1v2h-1zM358 526h1v1h-1zM369 526h1v1h-1zM487 527h1v1h-1zM269 530h1v1h-1zM602 523h1v1h-1zM600 525h1v1h-1zM601 524h1v1h-1zM462 521h1v1h-1zM130 539h1v1h-1zM598 527h1v1h-1zM599 526h1v1h-1zM654 526h1v1h-1zM306 529h1v1h-1zM72 545h1v1h-1zM655 527h1v1h-1zM490 530h1v1h-1zM485 525h1v1h-1zM154 535h1v1h-1zM268 529h1v1h-1zM491 531h1v1h-1zM386 530h1v1h-1zM886 532h1v1h-1zM205 537h1v1h-1zM890 530h1v1h-1zM19 538h1v1h-1zM126 545h1v1h-1zM387 531h1v1h-1zM548 539h1v1h-1zM14 532h1v1h-1zM586 532h1v1h-1zM488 528h1v1h-1zM270 531h1v1h-1zM741 534h1v1h-1zM578 537h1v1h-1zM682 530h1v1h-1zM489 529h1v1h-1zM751 538h1v1h-1zM577 538h1v1h-1zM846 537h1v1h-1zM749 540h1v1h-1zM750 539h1v1h-1zM658 529h1v1h-1zM17 536h1v1h-1zM302 531h1v1h-1zM597 528h1v1h-1zM217 533h1v1h-1zM743 536h1v1h-1zM150 537h1v1h-1zM830 543h1v1h-1zM832 540h1v1h-1zM744 537h1v1h-1zM553 542h1v1h-1zM745 538h1v1h-1zM211 531h1v1h-1zM75 543h1v1h-1zM673 531h1v1h-1zM882 534h1v1h-1zM801 546h1v1h-1zM541 534h1v1h-1zM761 537h1v1h-1zM850 539h1v1h-1zM547 538h1v1h-1zM579 536h1v1h-1zM210 532h1v1h-1z"/>
<path fill="#000" d="M7 32h7v1h-7zM8 33h5v1h-5zM9 34h3v1h-3zM10 35h1v1h-1z"/>
<path fill="#e3e3e3" d="M0 587h1207v1h-1207z"/>
<path fill="#000" d="M0 589h1207v1h-1207z"/>
<path fill="#f0f0f0" d="M0 590h1207v19h-1207z"/>
<path fill="#fff" d="M0 609h1207v2h-1207z"/>
<path fill="#f0f0f0" d="M0 611h1207v2h-1207z"/>
<path fill="#a0a0a0" d="M0 613h1207v1h-1207z"/>
<path fill="#696969" d="M0 590h1v18h-1z"/>
<path fill="#fff" d="M106 589h106v18h-106z"/>
<path fill="#000" d="M105 589h1v19h-1zM212 589h1v19h-1zM105 607h108v1h-108z"/>
<path fill="#696969" d="M321 592h1v14h-1zM429 592h1v14h-1zM537 592h1v14h-1zM649 592h1v14h-1zM745 592h1v14h-1zM833 592h1v14h-1zM921 592h1v14h-1zM1005 592h1v14h-1zM1085 592h1v14h-1zM1173 592h1v14h-1z"/>
<path fill="#a0a0a0" d="M1182 598h1v1h-1zM1204 598h1v1h-1zM1183 597h1v3h-1zM1203 597h1v3h-1zM1184 596h1v5h-1zM1202 596h1v5h-1zM1185 595h1v7h-1zM1201 595h1v7h-1z"/>
</svg>
<span id="t5" style="left:0.30px;top:6px;font-size:10.2px;color:#3c3c3c;transform:scaleX(0.9000);will-change:transform;">5</span>
<span id="tM30" style="left:15.30px;top:6px;font-size:10.2px;color:#3c3c3c;transform:scaleX(0.9529);will-change:transform;">M30</span>
<span id="tH1" style="left:45.30px;top:6px;font-size:10.2px;color:#3c3c3c;transform:scaleX(1.0864);will-change:transform;">H1</span>
<span id="tH4" style="left:73.30px;top:6px;font-size:10.2px;color:#3c3c3c;transform:scaleX(1.0864);will-change:transform;">H4</span>
<span id="tD1" style="left:102.30px;top:6px;font-size:10.2px;color:#3c3c3c;transform:scaleX(1.0039);will-change:transform;">D1</span>
<span id="tW1" style="left:130.30px;top:6px;font-size:10.2px;color:#3c3c3c;transform:scaleX(1.0385);will-change:transform;">W1</span>
<span id="tMN" style="left:156.30px;top:6px;font-size:10.2px;color:#3c3c3c;transform:scaleX(1.0385);will-change:transform;">MN</span>
<span id="title1" style="left:19.20px;top:30px;font-size:10.2px;color:#000;transform:scaleX(0.9573);">EURUSD-,Daily</span>
<span id="title2" style="left:91.30px;top:30px;font-size:10.2px;color:#000;transform:scaleX(0.9194);">1.10410 1.10691 1.10093 1.10158</span>
<span id="ax0" style="left:1172.30px;top:47px;font-size:10.2px;color:#000;transform:scaleX(0.9000);">1.15960</span>
<span id="ax1" style="left:1172.30px;top:80px;font-size:10.2px;color:#000;transform:scaleX(0.9000);">1.15220</span>
<span id="ax2" style="left:1172.30px;top:113px;font-size:10.2px;color:#000;transform:scaleX(0.9000);">1.14500</span>
<span id="ax3" style="left:1172.30px;top:146px;font-size:10.2px;color:#000;transform:scaleX(0.9000);">1.13760</span>
<span id="ax4" style="left:1172.30px;top:179px;font-size:10.2px;color:#000;transform:scaleX(0.9000);">1.13020</span>
<span id="ax5" style="left:1172.30px;top:212px;font-size:10.2px;color:#000;transform:scaleX(0.9000);">1.12300</span>
<span id="ax6" style="left:1172.30px;top:245px;font-size:10.2px;color:#000;transform:scaleX(0.9290);">1.11560</span>
<span id="ax7" style="left:1172.30px;top:278px;font-size:10.2px;color:#000;transform:scaleX(0.9000);">1.10820</span>
<span id="ax8" style="left:1172.30px;top:311px;font-size:10.2px;color:#000;transform:scaleX(0.9000);">1.10080</span>
<span id="ax9" style="left:1172.30px;top:344px;font-size:10.2px;color:#000;transform:scaleX(0.9000);">1.09360</span>
<span id="ax10" style="left:1172.30px;top:377px;font-size:10.2px;color:#000;transform:scaleX(0.9000);">1.08620</span>
<span id="ax11" style="left:1172.30px;top:410px;font-size:10.2px;color:#000;transform:scaleX(0.9000);">1.07900</span>
<span id="mc1" style="left:1170.30px;top:423px;font-size:10.2px;color:#000;transform:scaleX(0.9250);">0.003408</span>
<span id="mc2" style="left:1170.30px;top:432px;font-size:10.2px;color:#000;transform:scaleX(0.9500);">0.00</span>
<span id="mc3" style="left:1169.30px;top:480px;font-size:10.2px;color:#000;transform:scaleX(0.9250);">-0.012058</span>
<span id="rs1" style="left:1169.30px;top:497px;font-size:10.2px;color:#000;transform:scaleX(1.0286);">100</span>
<span id="rs2" style="left:1169.30px;top:512px;font-size:10.2px;color:#000;transform:scaleX(1.0000);">70</span>
<span id="rs3" style="left:1170.30px;top:541px;font-size:10.2px;color:#000;transform:scaleX(0.9000);">30</span>
<span id="rs4" style="left:1170.30px;top:556px;font-size:10.2px;color:#000;transform:scaleX(0.9000);">0</span>
<span id="macdt" style="left:8.30px;top:424px;font-size:10.2px;color:#000;transform:scaleX(0.9194);">MACD(12,26,9) -0.005407 -0.008186</span>
<span id="rsit" style="left:8.30px;top:498px;font-size:10.2px;color:#000;transform:scaleX(0.9273);">RSI(14) 44.8162</span>
<span id="d0" style="left:3.30px;top:572px;font-size:10.2px;color:#000;transform:scaleX(0.9395);">8 Nov 2021</span>
<span id="d1" style="left:66.30px;top:572px;font-size:10.2px;color:#000;transform:scaleX(0.9353);">17 Nov 2021</span>
<span id="d2" style="left:131.30px;top:572px;font-size:10.2px;color:#000;transform:scaleX(0.9346);">26 Nov 2021</span>
<span id="d3" style="left:195.30px;top:572px;font-size:10.2px;color:#000;transform:scaleX(0.9000);">6 Dec 2021</span>
<span id="d4" style="left:259.30px;top:572px;font-size:10.2px;color:#000;transform:scaleX(0.9000);">15 Dec 2021</span>
<span id="d5" style="left:323.30px;top:572px;font-size:10.2px;color:#000;transform:scaleX(0.8827);">24 Dec 2021</span>
<span id="d6" style="left:387.30px;top:572px;font-size:10.2px;color:#000;transform:scaleX(0.9000);">3 Jan 2022</span>
<span id="d7" style="left:451.30px;top:572px;font-size:10.2px;color:#000;transform:scaleX(0.8816);">12 Jan 2022</span>
<span id="d8" style="left:515.30px;top:572px;font-size:10.2px;color:#000;transform:scaleX(0.9000);">21 Jan 2022</span>
<span id="d9" style="left:579.30px;top:572px;font-size:10.2px;color:#000;transform:scaleX(0.9000);">31 Jan 2022</span>
<span id="d10" style="left:643.30px;top:572px;font-size:10.2px;color:#000;transform:scaleX(0.9196);">9 Feb 2022</span>
<span id="d11" style="left:706.30px;top:572px;font-size:10.2px;color:#000;transform:scaleX(0.9360);">18 Feb 2022</span>
<span id="d12" style="left:771.30px;top:572px;font-size:10.2px;color:#000;transform:scaleX(0.9176);">28 Feb 2022</span>
<span id="d13" style="left:836.30px;top:572px;font-size:10.2px;color:#000;transform:scaleX(0.9000);">9 Mar 2022</span>
<span id="d14" style="left:898.30px;top:572px;font-size:10.2px;color:#000;transform:scaleX(0.9360);">18 Mar 2022</span>
<i style="left:1168px;top:131px;background:#ff0000"></i><i style="left:1168px;top:186px;background:#ff0000"></i><i style="left:1168px;top:249px;background:#00ff00"></i><i style="left:1168px;top:329px;background:#0000ff"></i><i style="left:1168px;top:403px;background:#0000ff"></i><i style="left:1168px;top:306px;background:#000"></i>
<span id="ll0" style="left:1172.30px;top:133px;font-size:10.2px;color:#fff;transform:scaleX(0.9000);">1.14024</span>
<span id="ll1" style="left:1172.30px;top:188px;font-size:10.2px;color:#fff;transform:scaleX(0.9000);">1.12810</span>
<span id="ll2" style="left:1172.30px;top:251px;font-size:10.2px;color:#fff;transform:scaleX(0.9290);">1.11398</span>
<span id="ll3" style="left:1172.30px;top:331px;font-size:10.2px;color:#fff;transform:scaleX(0.9000);">1.09626</span>
<span id="ll4" style="left:1172.30px;top:405px;font-size:10.2px;color:#fff;transform:scaleX(0.9000);">1.07984</span>
<span id="ll5" style="left:1172.30px;top:308px;font-size:10.2px;color:#fff;transform:scaleX(0.9000);">1.10158</span>
<span id="tab0" style="left:14.80px;top:594px;font-size:12.2px;color:#777;transform:scaleX(1.0456);">USDX,Weekly</span>
<span id="tab1" style="left:115.80px;top:594px;font-size:12.2px;color:#000;transform:scaleX(0.9947);">EURUSD-,Daily</span>
<span id="tab2" style="left:223.80px;top:594px;font-size:12.2px;color:#777;transform:scaleX(1.0169);">AUDUSD-,Daily</span>
<span id="tab3" style="left:331.80px;top:594px;font-size:12.2px;color:#777;transform:scaleX(1.0066);">USDCHF-,Daily</span>
<span id="tab4" style="left:439.80px;top:594px;font-size:12.2px;color:#777;transform:scaleX(1.0184);">USDCAD-,Daily</span>
<span id="tab5" style="left:547.80px;top:594px;font-size:12.2px;color:#777;transform:scaleX(1.0403);">USDCNH-,Daily</span>
<span id="tab6" style="left:658.80px;top:594px;font-size:12.2px;color:#777;transform:scaleX(1.0385);">XAUUSD-,H1</span>
<span id="tab7" style="left:754.80px;top:594px;font-size:12.2px;color:#777;transform:scaleX(1.0802);">UKOil-,M15</span>
<span id="tab8" style="left:843.80px;top:594px;font-size:12.2px;color:#777;transform:scaleX(1.0446);">DJ30-,Daily</span>
<span id="tab9" style="left:930.80px;top:594px;font-size:12.2px;color:#777;transform:scaleX(1.0698);">UK100-,H1</span>
<span id="tab10" style="left:1015.80px;top:594px;font-size:12.2px;color:#777;transform:scaleX(1.0688);">USOil-,H4</span>
<span id="tab11" style="left:1093.80px;top:594px;font-size:12.2px;color:#777;transform:scaleX(1.0584);">HK50-,Daily</span>
</body></html>
